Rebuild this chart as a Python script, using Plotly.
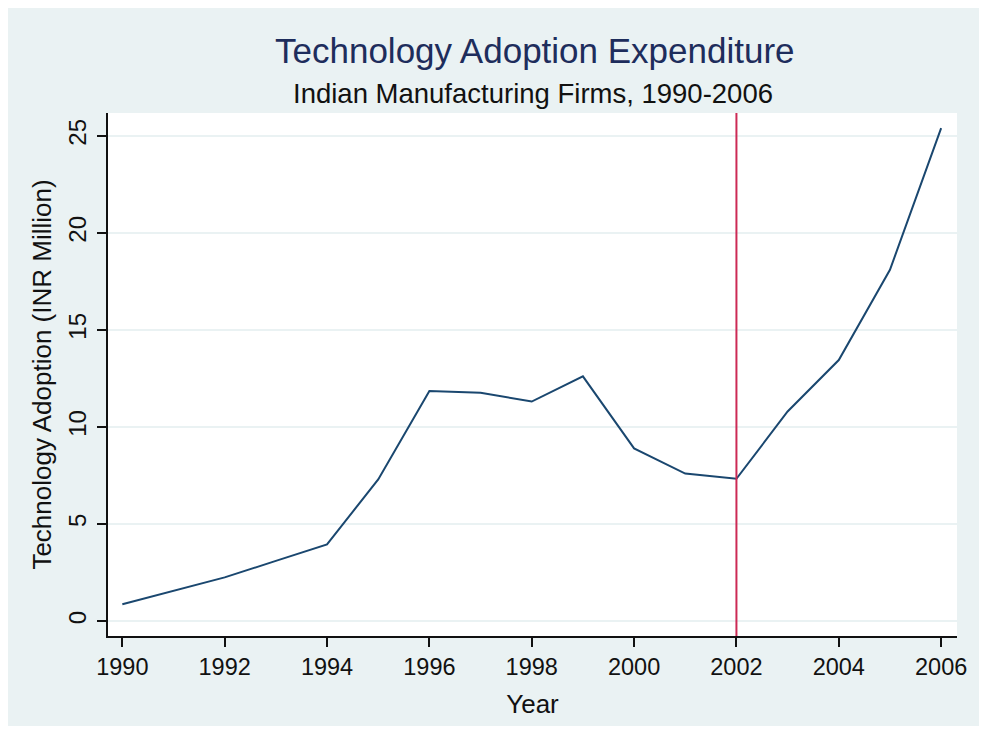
import plotly.graph_objects as go

# ---- data ----
years = [1990, 1991, 1992, 1993, 1994, 1995, 1996, 1997, 1998,
         1999, 2000, 2001, 2002, 2003, 2004, 2005, 2006]
tech_adoption = [0.87, 1.55, 2.25, 3.10, 3.95, 7.30, 11.86, 11.77, 11.31,
                 12.61, 8.90, 7.60, 7.33, 10.80, 13.45, 18.10, 25.40]
event_year = 2002
x_ticks = [1990, 1992, 1994, 1996, 1998, 2000, 2002, 2004, 2006]
y_ticks = [0, 5, 10, 15, 20, 25]

title_text = "Technology Adoption Expenditure"
subtitle_text = "Indian Manufacturing Firms, 1990-2006"
x_title = "Year"
y_title = "Technology Adoption (INR Million)"

FONT = "Liberation Sans, Arial, sans-serif"
BG = "#EAF2F3"

fig = go.Figure()
fig.add_trace(go.Scatter(
    x=years, y=tech_adoption, mode="lines",
    line=dict(color="#1a476f", width=2),
    showlegend=False, hoverinfo="x+y"))

# page body adds an 8px margin on every side; keep the figure inside the window
OFF = 8
W, H = 987 - 2 * OFF, 734 - 2 * OFF
ml, mt = 108 - OFF, 113 - OFF
mr = W - (966 - OFF)          # leave room for the last tick label
mb = H - (638 - OFF)
pw = W - ml - mr
ph = H - mt - mb

def px_x(p):
    return (p - OFF - ml) / pw

def px_y(p):
    # p: screen pixel row in the reference
    return (H - mb - (p - OFF)) / ph

shapes = [
    dict(type="line", xref="x", yref="paper", x0=event_year, x1=event_year,
         y0=0, y1=1, line=dict(color="#cc2a55", width=2), layer="above"),
]

annotations = [
    dict(text=title_text, xref="paper", yref="paper", x=px_x(540), y=px_y(50),
         xanchor="center", yanchor="middle", showarrow=False,
         font=dict(family=FONT, size=35, color="#1e2d5c")),
    dict(text=subtitle_text, xref="paper", yref="paper", x=px_x(538), y=px_y(93),
         xanchor="center", yanchor="middle", showarrow=False,
         font=dict(family=FONT, size=27.5, color="#111111")),
]

fig.update_layout(
    width=W, height=H,
    margin=dict(l=ml, r=mr, t=mt, b=mb, pad=0),
    paper_bgcolor=BG, plot_bgcolor="white",
    shapes=shapes, annotations=annotations,
    font=dict(family=FONT, color="#111111"),
    xaxis=dict(
        range=[1989.72, 2006.31], tickmode="array", tickvals=x_ticks,
        ticktext=[str(v) for v in x_ticks],
        showgrid=False, zeroline=False,
        showline=True, linecolor="#111111", linewidth=2,
        ticks="outside", ticklen=9, tickwidth=2, tickcolor="#111111",
        tickfont=dict(size=23.5, color="#111111"), ticklabelstandoff=0,
        ticklabeloverflow="allow",
        title=dict(text=x_title, font=dict(size=26, color="#111111"), standoff=16),
    ),
    yaxis=dict(
        range=[-0.77, 26.18], tickmode="array", tickvals=y_ticks,
        ticktext=[str(v) for v in y_ticks],
        showgrid=True, gridcolor=BG, gridwidth=2, zeroline=False,
        showline=True, linecolor="#111111", linewidth=2,
        ticks="outside", ticklen=9, tickwidth=2, tickcolor="#111111",
        tickangle=-90,
        tickfont=dict(size=24, color="#111111"), ticklabelstandoff=1,
        title=dict(text=y_title, font=dict(size=26, color="#111111"), standoff=5),
    ),
)

fig.write_html("out.html")
